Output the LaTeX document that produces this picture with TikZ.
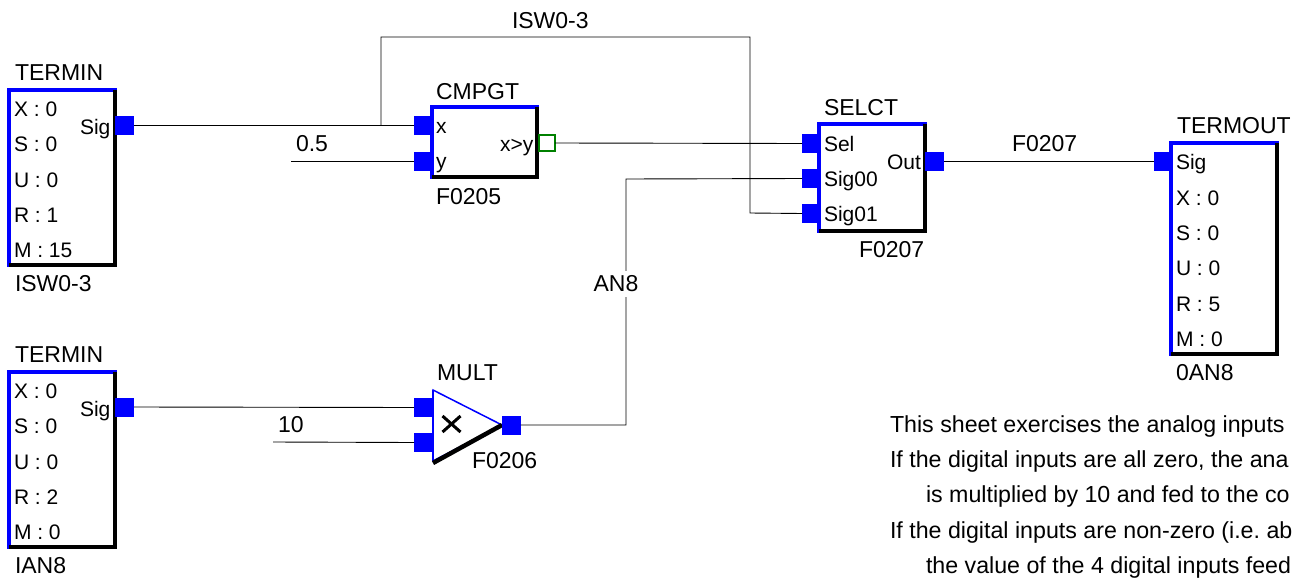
\documentclass[tikz,border=0pt]{standalone}
\usepackage{fontspec}
\setmainfont{Liberation Sans}
\usetikzlibrary{calc}
\tikzset{
  x=1pt,y=-1pt,
  wire/.style={draw=black,line width=0.9pt},
  port/.style={draw=none,fill=portblue,minimum width=19pt,minimum height=19pt,inner sep=0pt,outer sep=0pt},
  gport/.style={draw=portgreen,fill=white,line width=2pt,minimum width=16pt,minimum height=16pt,inner sep=0pt,outer sep=0pt},
  blockbox/.style={draw=portblue,fill=white,line width=3.6pt,inner sep=0pt,outer sep=0pt},
  shade line/.style={draw=black,line width=4pt,line cap=square},
  big/.style={anchor=base west,inner sep=0pt,outer sep=0pt,font=\fontsize{23}{25}\selectfont},
  small/.style={anchor=base west,inner sep=0pt,outer sep=0pt,font=\fontsize{21}{24}\selectfont},
  note/.style={anchor=base west,inner sep=0pt,outer sep=0pt,font=\fontsize{23.2}{25}\selectfont},
}
\definecolor{portblue}{RGB}{0,0,255}
\definecolor{portgreen}{RGB}{0,128,0}
\newcommand{\blockat}[5]{% name, left, top, width, height
  \node[blockbox,anchor=north west,minimum width=#4pt,minimum height=#5pt] (#1) at (#2,#3) {};
  \draw[shade line] ($(#1.north east)+(0,0)$) -- ($(#1.south east)+(0,0)$) -- ($(#1.south west)+(0,0)$);
}
\begin{document}
\frenchspacing
\begin{tikzpicture}
\useasboundingbox (0,0) rectangle (1292,578);
\fill[white] (0,0) rectangle (1292,578);

% wires (drawn first)
\coordinate (loopA) at (381,125);
\coordinate (loopB) at (381,37);
\coordinate (loopC) at (750,37);
\coordinate (loopD) at (750,213);
\coordinate (yfree) at (291,161);
\coordinate (tenfree) at (273,442);
\coordinate (anA) at (626,425);
\coordinate (anB) at (626,179);

% blocks
\blockat{tin}{9}{90}{106}{175}
\blockat{tinb}{9}{372}{106}{175}
\blockat{cmp}{432}{107}{105}{70}
\blockat{sel}{819}{124}{106}{107}
\blockat{tout}{1171}{143}{106}{211}

% multiplier
\coordinate (mtop) at (433,390);
\coordinate (mbot) at (433,461);
\coordinate (mtip) at (502,425);
\draw[draw=portblue,fill=white,line width=1.5pt] (mtop) -- (mtip) -- (mbot) -- cycle;
\draw[draw=portblue,line width=2.5pt] (mtop) -- (mbot);
\draw[draw=black,line width=4.5pt] (433,463) -- (mtip);
\draw[black,line width=3pt] (442.5,416) -- (460.5,432) (442.5,432) -- (460.5,416);

% ports
\node[port] (tinS) at (124.5,125) {};
\node[port] (tinbS) at (124.5,407) {};
\node[port] (cx) at (423.5,125) {};
\node[port] (cy) at (423.5,161) {};
\node[gport] (cout) at (547,143) {};
\node[port] (ssel) at (811.5,143.5) {};
\node[port] (s00) at (811.5,178.5) {};
\node[port] (s01) at (811.5,213.5) {};
\node[port] (sout) at (934.5,161) {};
\node[port] (tsig) at (1163.5,161) {};
\node[port] (mx) at (423.5,407.5) {};
\node[port] (my) at (423.5,442.5) {};
\node[port] (mout) at (511,425) {};

\draw[wire] (tinS.east) -- (cx.west);
\draw[wire] (yfree) -- (cy.west);
\draw[wire] (loopA) -- (loopB) -- (loopC) -- (loopD) -- (s01.west);
\draw[wire] (cout.east) -- (ssel.west);
\draw[wire] (sout.east) -- (tsig.west);
\draw[wire] (tinbS.east) -- (mx.west);
\draw[wire] (tenfree) -- (my.west);
\draw[wire] (mout.east) -- (anA) -- (anB) -- (s00.west);

% wire labels
\node[big] (lisw) at (512,29) {ISW0-3};
\node[big] (l05) at (296,151) {0.5};
\node[big] (l10) at (278,432) {10};
\node[big] (lf07) at (1012,151) {F0207};
\node[big,fill=white,inner xsep=3pt,inner ysep=5pt,anchor=center] (lan) at (616,284) {AN8};

% TERMIN 1
\node[big] (t1) at (15,81) {TERMIN};
\node[small] (t1x) at (14,116) {X : 0};
\node[small] (t1s) at (14,151) {S : 0};
\node[small] (t1u) at (14,187) {U : 0};
\node[small] (t1r) at (14,222) {R : 1};
\node[small] (t1m) at (14,257) {M : 15};
\node[small] (t1sig) at (80,134) {Sig};
\node[big] (t1n) at (15,291) {ISW0-3};

% TERMIN 2
\node[big] (t2) at (15,362) {TERMIN};
\node[small] (t2x) at (14,398) {X : 0};
\node[small] (t2s) at (14,433) {S : 0};
\node[small] (t2u) at (14,469) {U : 0};
\node[small] (t2r) at (14,504) {R : 2};
\node[small] (t2m) at (14,539) {M : 0};
\node[small] (t2sig) at (80,416) {Sig};
\node[big] (t2n) at (15,573) {IAN8};

% CMPGT
\node[big] (c1) at (436,99) {CMPGT};
\node[small] (cxl) at (436,133) {x};
\node[small] (cyl) at (436,168) {y};
\node[small] (cgt) at (500,151) {x>y};
\node[big] (cn) at (436,204) {F0205};

% SELCT
\node[big] (s1) at (824,115) {SELCT};
\node[small] (sl1) at (824,151) {Sel};
\node[small] (sl2) at (824,186) {Sig00};
\node[small] (sl3) at (824,221) {Sig01};
\node[small] (sl4) at (887,169) {Out};
\node[big] (sn) at (859,257) {F0207};

% TERMOUT
\node[big] (o1) at (1177,133) {TERMOUT};
\node[small] (osig) at (1176,169) {Sig};
\node[small] (ox) at (1176,205) {X : 0};
\node[small] (os) at (1176,240) {S : 0};
\node[small] (ou) at (1176,275) {U : 0};
\node[small] (or) at (1176,311) {R : 5};
\node[small] (om) at (1176,346) {M : 0};
\node[big] (on) at (1176,380) {0AN8};

% MULT
\node[big] (m1) at (437,380) {MULT};
\node[big] (mn) at (472,468) {F0206};

% note
\node[note] (n1) at (890,432) {This sheet exercises the analog inputs};
\node[note] (n2) at (890,467) {If the digital inputs are all zero, the ana};
\node[note] (n3) at (926,502) {is multiplied by 10 and fed to the co};
\node[note] (n4) at (890,538) {If the digital inputs are non-zero (i.e. ab};
\node[note] (n5) at (926,573) {the value of the 4 digital inputs feed};
\end{tikzpicture}
\end{document}
